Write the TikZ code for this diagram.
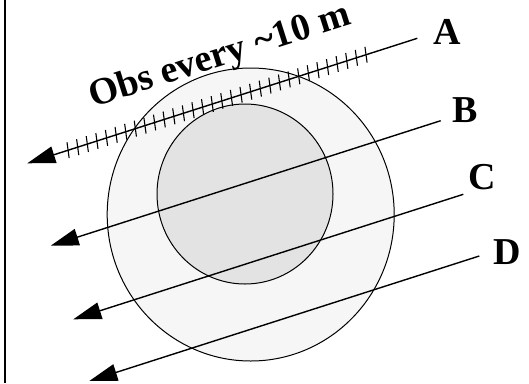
\documentclass[tikz,border=0pt]{standalone}
\usepackage{fontspec}
\setmainfont{Liberation Serif}
\usetikzlibrary{arrows.meta,calc}
\begin{document}
\begin{tikzpicture}[x=1pt,y=-1pt,
  ray/.style={line width=1.4pt,-{Triangle[length=28pt,width=17pt]}},
  tick/.style={line width=1.1pt},
  lbl/.style={font=\fontsize{38}{42}\selectfont\bfseries,inner sep=0pt},
  ring/.style={draw=black,line width=1pt}]
\useasboundingbox (0,0) rectangle (529,383);
% left border
\draw[line width=2pt] (5,0) -- (5,383);
% circles
\draw[ring,fill={rgb,255:red,246;green,246;blue,246}] (250.7,214.5) ellipse [x radius=143.5, y radius=146.5];
\draw[ring,fill={rgb,255:red,227;green,227;blue,227}] (245,194) ellipse [x radius=88, y radius=90];
% line ends
\coordinate (Aend) at (417.3,38.3);  \coordinate (Atip) at (27.3,163.3);
\coordinate (Bend) at (440.7,120.7); \coordinate (Btip) at (50.7,245.7);
\coordinate (Cend) at (463.3,194.3); \coordinate (Ctip) at (73.3,319.3);
\coordinate (Dend) at (479.3,256);   \coordinate (Dtip) at (89.3,381);
% ticks on A
\foreach \i in {0,...,31}{
  \pgfmathsetmacro{\t}{0.1315+0.02465*\i}
  \coordinate (p) at ($(Aend)!\t!(Atip)$);
  \draw[tick] ($(p)!8pt!80:(Atip)$) -- ($(p)!8pt!-100:(Atip)$);
}
% rays
\draw[ray] (Aend) -- (Atip);
\draw[ray] (Bend) -- (Btip);
\draw[ray] (Cend) -- (Ctip);
\draw[ray] (Dend) -- (Dtip);
% labels
\node[lbl] (lA) at (447.5,31.5) {A};
\node[lbl] (lB) at (465,110.5) {B};
\node[lbl] (lC) at (482.5,177.5) {C};
\node[lbl] (lD) at (507.5,252.5) {D};
\node[lbl,rotate=17.7] (obs) at (220,57) {Obs every {\char"7E}10 m};
\end{tikzpicture}
\end{document}
